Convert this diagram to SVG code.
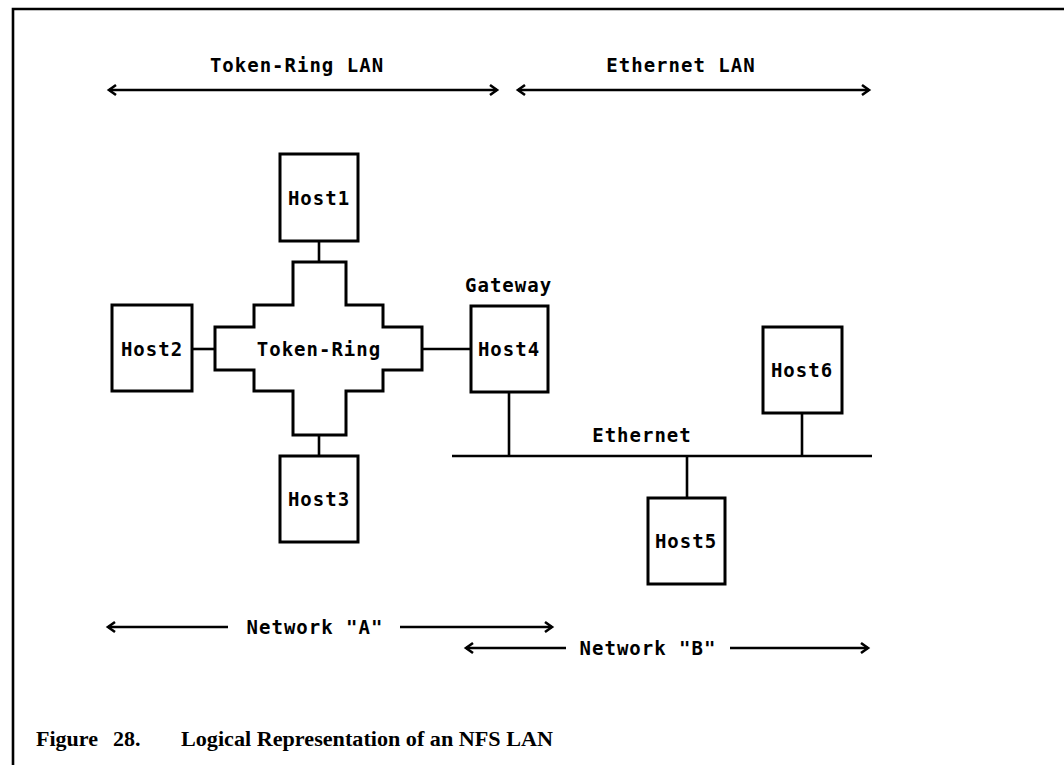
<svg xmlns="http://www.w3.org/2000/svg" width="1064" height="780" viewBox="0 0 1064 780">
  <style>
    .box { fill: #fff; stroke: #000; stroke-width: 3; }
    .ln { fill: none; stroke: #000; stroke-width: 2.6; }
    .ar { fill: none; stroke: #000; stroke-width: 2.6; stroke-linejoin: miter; }
    .lbl { font-family: "DejaVu Sans Mono", "Liberation Mono", monospace; font-weight: bold; font-size: 19px; letter-spacing: 1px; fill: #000; }
    .mid { text-anchor: middle; dominant-baseline: central; }
    .cap { font-family: "Liberation Serif", "Times New Roman", serif; font-weight: bold; font-size: 22px; fill: #000; }
  </style>

  <!-- frame -->
  <path class="ln" d="M13 765 V9 H1064" stroke-width="3"/>

  <!-- span indicators -->
  <g id="spans">
    <line class="ln" x1="109" y1="90" x2="497" y2="90"/>
    <polyline class="ar" points="116,85 109,90 116,95"/>
    <polyline class="ar" points="490,85 497,90 490,95"/>
    <text class="lbl mid" x="297" y="65">Token-Ring LAN</text>

    <line class="ln" x1="518" y1="90" x2="869" y2="90"/>
    <polyline class="ar" points="525,85 518,90 525,95"/>
    <polyline class="ar" points="862,85 869,90 862,95"/>
    <text class="lbl mid" x="681" y="65">Ethernet LAN</text>

    <line class="ln" x1="108" y1="627" x2="228" y2="627"/>
    <line class="ln" x1="400" y1="627" x2="552" y2="627"/>
    <polyline class="ar" points="115,622 108,627 115,632"/>
    <polyline class="ar" points="545,622 552,627 545,632"/>
    <text class="lbl mid" x="315" y="627">Network "A"</text>

    <line class="ln" x1="466" y1="648" x2="566" y2="648"/>
    <line class="ln" x1="730" y1="648" x2="868" y2="648"/>
    <polyline class="ar" points="473,643 466,648 473,653"/>
    <polyline class="ar" points="861,643 868,648 861,653"/>
    <text class="lbl mid" x="648" y="648">Network "B"</text>
  </g>

  <!-- links -->
  <g id="connectors">
    <line class="ln" x1="319" y1="241" x2="319" y2="262"/>
    <line class="ln" x1="319" y1="435" x2="319" y2="456"/>
    <line class="ln" x1="192" y1="349" x2="215" y2="349"/>
    <line class="ln" x1="422" y1="349" x2="471" y2="349"/>
    <line class="ln" x1="509" y1="392" x2="509" y2="456"/>
    <line class="ln" x1="802" y1="413" x2="802" y2="456"/>
    <line class="ln" x1="687" y1="456" x2="687" y2="498"/>
    <line id="ethernet-bus" class="ln" x1="452" y1="456" x2="872" y2="456"/>
    <text class="lbl mid" x="642" y="435">Ethernet</text>
  </g>

  <g id="token-ring">
    <polygon class="box" points="293,262 346,262 346,305 383,305 383,327 422,327 422,370 383,370 383,391 346,391 346,435 293,435 293,391 254,391 254,370 215,370 215,327 254,327 254,305 293,305"/>
    <text class="lbl mid" x="319" y="349">Token-Ring</text>
  </g>

  <g id="host1">
    <rect class="box" x="280" y="154" width="78" height="87"/>
    <text class="lbl mid" x="319" y="198">Host1</text>
  </g>
  <g id="host2">
    <rect class="box" x="112" y="305" width="80" height="86"/>
    <text class="lbl mid" x="152" y="349">Host2</text>
  </g>
  <g id="host3">
    <rect class="box" x="280" y="456" width="78" height="86"/>
    <text class="lbl mid" x="319" y="499">Host3</text>
  </g>
  <g id="host4">
    <text class="lbl" x="465" y="292">Gateway</text>
    <rect class="box" x="471" y="306" width="77" height="86"/>
    <text class="lbl mid" x="509" y="349">Host4</text>
  </g>
  <g id="host5">
    <rect class="box" x="648" y="498" width="77" height="86"/>
    <text class="lbl mid" x="686" y="541">Host5</text>
  </g>
  <g id="host6">
    <rect class="box" x="763" y="327" width="79" height="86"/>
    <text class="lbl mid" x="802" y="370">Host6</text>
  </g>

  <!-- caption -->
  <text class="cap" x="36" y="746">Figure</text>
  <text class="cap" x="113" y="746">28.</text>
  <text class="cap" x="181" y="746" textLength="372" lengthAdjust="spacingAndGlyphs">Logical Representation of an NFS LAN</text>
</svg>
